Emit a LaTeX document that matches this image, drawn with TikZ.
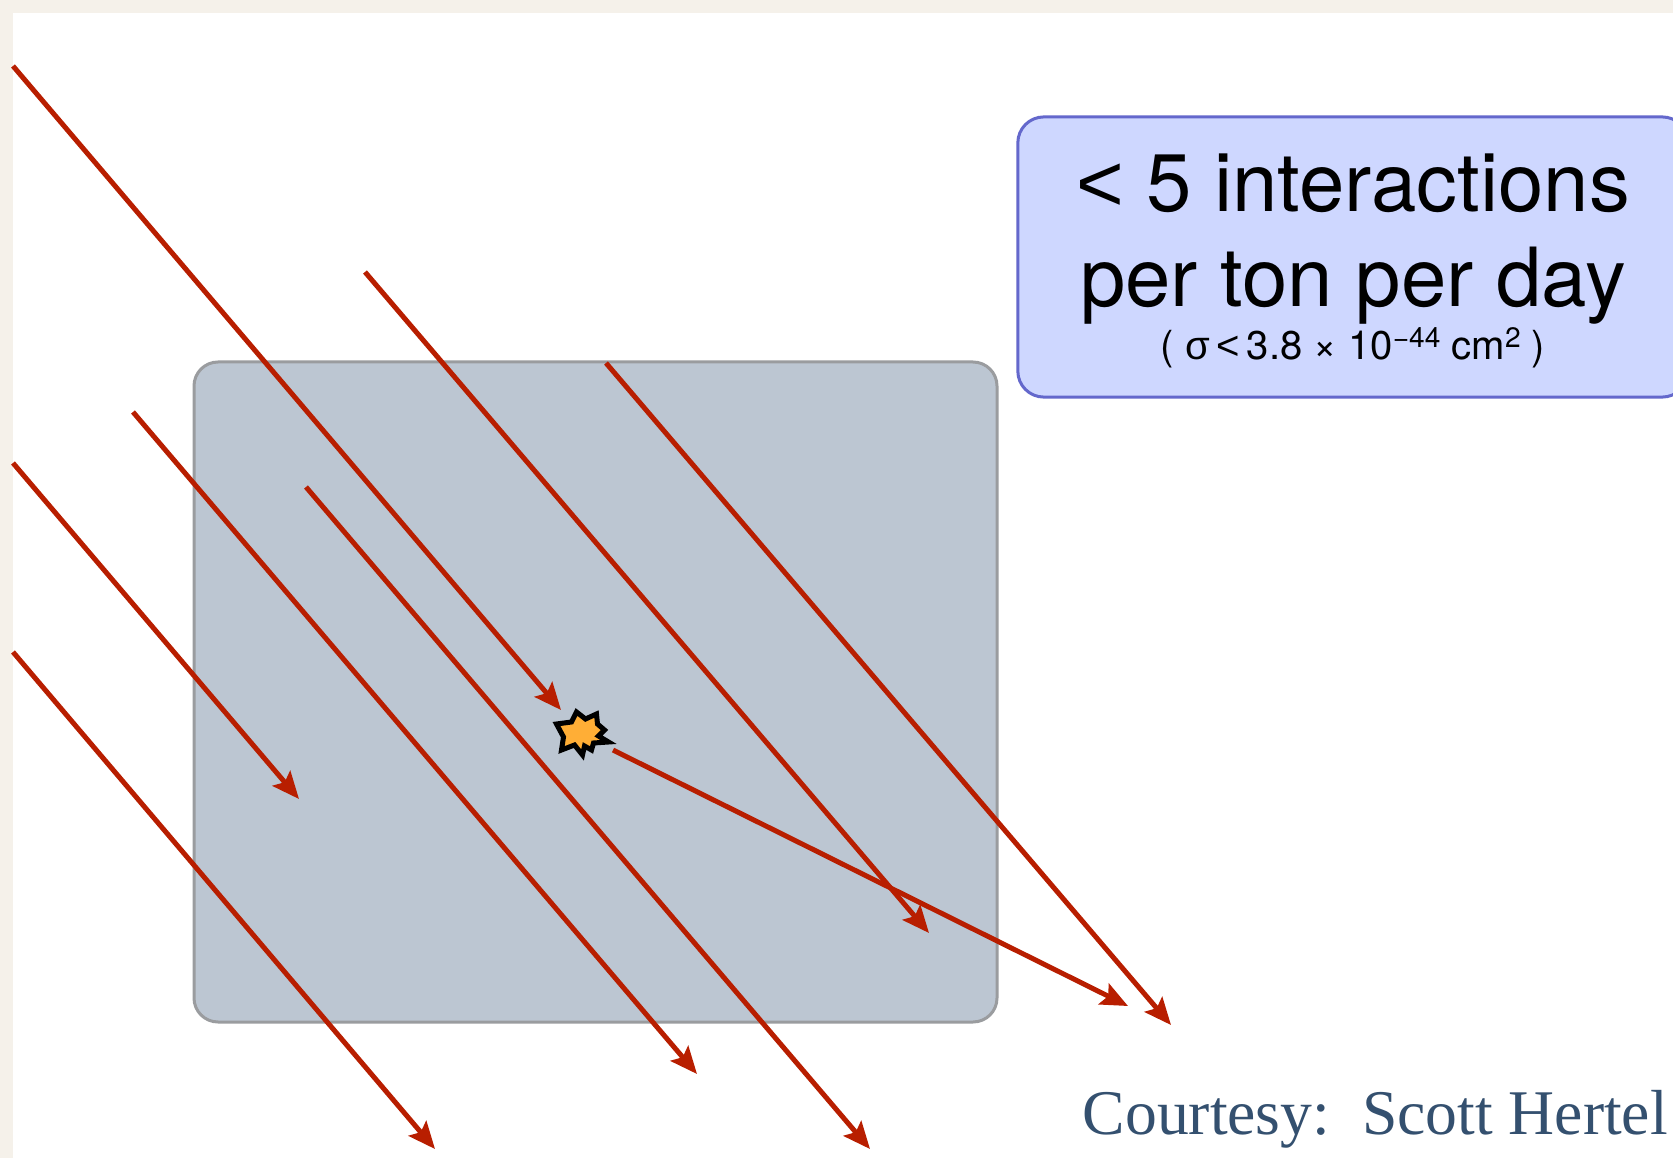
\documentclass[tikz,border=0pt]{standalone}
\usepackage{fontspec}
\setmainfont{TeX Gyre Heros}
\newfontfamily\widefont{Liberation Sans}
\newfontfamily\creditfont{Liberation Serif}
\usetikzlibrary{arrows.meta}
\definecolor{paper}{HTML}{F5F1EA}
\definecolor{slabgray}{HTML}{BCC6D2}
\definecolor{slabedge}{HTML}{9A9C9F}
\definecolor{boxblue}{HTML}{CED7FF}
\definecolor{boxedge}{HTML}{6468CC}
\definecolor{beamred}{HTML}{B81E00}
\definecolor{flash}{HTML}{FFAE36}
\definecolor{credit}{HTML}{34506F}
\newcommand{\sups}[1]{\raisebox{0.55ex}{\fontsize{8}{8}\selectfont #1}}
\newcommand{\bigline}{\fontsize{23.2}{27.5}\selectfont}
\newcommand{\smallline}{\fontsize{11.4}{15.6}\selectfont}
\tikzset{
  beam/.style={draw=beamred, line width=0.05cm, -{Stealth[length=0.27cm, width=0.23cm, inset=0.05cm]}},
  slab/.style={fill=slabgray, draw=slabedge, line width=0.03cm, rounded corners=0.24cm},
  infobox/.style={fill=boxblue, draw=boxedge, line width=0.03cm, rounded corners=0.26cm,
    minimum width=6.7cm, minimum height=2.8cm, inner sep=0pt},
  infotext/.style={inner sep=0pt, align=center},
}
\begin{document}
\begin{tikzpicture}[x=0.01cm, y=-0.01cm]
  \useasboundingbox (0,0) rectangle (1673,1158);

  % Page
  \fill[paper] (0,0) rectangle (1673,1158);
  \fill[white] (13,13) rectangle (1673,1158);

  % Target
  \draw[slab] (194,362) rectangle (997,1022);

  % Beam ends
  \coordinate (s1) at (13,66);   \coordinate (e1) at (561,710);
  \coordinate (s2) at (365,272); \coordinate (e2) at (929,933);
  \coordinate (s3) at (606,363); \coordinate (e3) at (1171,1025);
  \coordinate (s4) at (133,412); \coordinate (e4) at (697,1074);
  \coordinate (s5) at (306,487); \coordinate (e5) at (870,1149);
  \coordinate (s6) at (13,463);  \coordinate (e6) at (299,799);
  \coordinate (s7) at (13,652);  \coordinate (e7) at (435,1149);
  \coordinate (s8) at (613,750); \coordinate (e8) at (1128,1006);

  % Beams
  \foreach \n in {1,...,8} \draw[beam] (s\n) -- (e\n);

  % Interaction point
  \filldraw[fill=flash, draw=black, line width=0.05cm, miter limit=8]
    (556.5,724) -- (571.5,722) -- (576.5,712) -- (585.5,719) -- (596.5,714) -- (597.5,724)
    -- (604.5,730) -- (598.5,736) -- (608.5,742) -- (593.5,743) -- (591.5,750) -- (584.5,746)
    -- (582.5,755) -- (574.5,745) -- (561.5,750) -- (563.5,737) -- cycle;

  % Rate box
  \node[infobox] (rate) at (1353,257) {};
  \node[infotext, yshift=-0.04cm] (ratetext) at (rate.center) {%
    \bigline {\widefont<} 5 interactions\\[8.6pt]
    \bigline per ton per day\\
    \smallline ( {\widefont σ\,<}\,3.8 × 10\sups{−44} cm\sups{2} )};

  % Credit
  \node[anchor=base west, inner sep=0pt, text=credit, font=\creditfont\fontsize{18.1}{20}\selectfont]
    (courtesy) at (1082,1134) {Courtesy:\ \ Scott Hertel};
\end{tikzpicture}
\end{document}
